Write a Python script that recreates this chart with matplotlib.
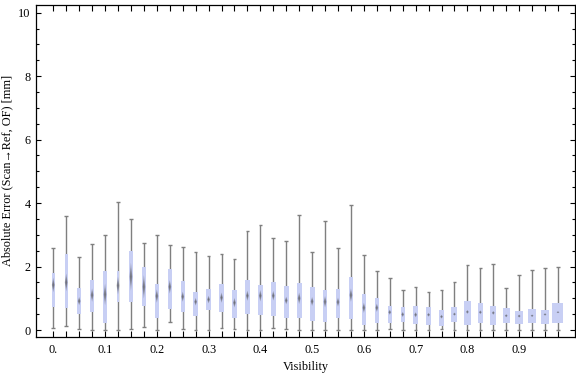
import numpy as np
import matplotlib.pyplot as plt

# visibility bins (box positions)
vis = np.arange(40) * 0.025

# box whisker statistics [mm]
w_lo = [0.05, 0.12, 0.02, 0.00, 0.00, 0.00, 0.02, 0.10, 0.00, 0.24,
        0.02, 0.00, 0.00, 0.05, 0.02, 0.00, 0.00, 0.06, 0.02, 0.00,
        0.00, 0.00, 0.00, 0.00, 0.00, 0.00, 0.03, 0.00, 0.00, 0.00,
        0.02, 0.00, 0.00, 0.00, 0.00, 0.00, 0.00, 0.00, 0.00, 0.00]
q1 = [0.73, 0.68, 0.52, 0.56, 0.22, 0.89, 0.87, 0.77, 0.37, 0.67,
      0.56, 0.45, 0.64, 0.56, 0.37, 0.49, 0.48, 0.45, 0.39, 0.39,
      0.29, 0.26, 0.39, 0.36, 0.17, 0.23, 0.23, 0.24, 0.18, 0.17,
      0.14, 0.26, 0.17, 0.23, 0.17, 0.21, 0.20, 0.23, 0.20, 0.23]
med = [1.42, 1.50, 0.91, 1.10, 1.12, 1.40, 1.68, 1.36, 1.07, 1.36,
       1.05, 0.89, 0.96, 1.02, 0.86, 1.08, 1.08, 1.08, 0.93, 1.00,
       0.90, 0.89, 0.88, 1.10, 0.70, 0.70, 0.56, 0.49, 0.48, 0.48,
       0.42, 0.50, 0.57, 0.56, 0.54, 0.45, 0.44, 0.45, 0.49, 0.56]
q3 = [1.80, 2.38, 1.31, 1.56, 1.85, 1.85, 2.49, 1.98, 1.45, 1.92,
      1.54, 1.20, 1.29, 1.45, 1.26, 1.56, 1.42, 1.50, 1.39, 1.47,
      1.35, 1.26, 1.29, 1.67, 1.13, 1.01, 0.76, 0.72, 0.76, 0.72,
      0.63, 0.72, 0.91, 0.85, 0.76, 0.69, 0.60, 0.66, 0.63, 0.85]
w_hi = [2.58, 3.58, 2.30, 2.70, 2.98, 4.04, 3.49, 2.73, 2.98, 2.67,
        2.60, 2.45, 2.32, 2.38, 2.23, 3.11, 3.30, 2.89, 2.82, 3.61,
        2.45, 3.45, 2.57, 3.93, 2.35, 1.85, 1.63, 1.25, 1.34, 1.19,
        1.25, 1.50, 2.04, 1.94, 2.07, 1.31, 1.72, 1.88, 1.94, 1.97]
# median confidence (notch) half-height [mm]
notch = [0.23, 0.28, 0.13, 0.21, 0.34, 0.28, 0.44, 0.37, 0.21, 0.21,
         0.16, 0.12, 0.12, 0.16, 0.15, 0.16, 0.18, 0.15, 0.12, 0.18,
         0.14, 0.18, 0.14, 0.21, 0.16, 0.13, 0.08, 0.08, 0.08, 0.06,
         0.06, 0.05, 0.06, 0.06, 0.06, 0.05, 0.05, 0.04, 0.04, 0.03]
# relative box width (sample size), fraction of bin spacing
rel_w = [0.26, 0.23, 0.34, 0.26, 0.26, 0.23, 0.26, 0.26, 0.31, 0.31,
         0.31, 0.34, 0.41, 0.34, 0.34, 0.39, 0.39, 0.41, 0.39, 0.39,
         0.39, 0.34, 0.34, 0.34, 0.34, 0.34, 0.34, 0.31, 0.34, 0.39,
         0.39, 0.46, 0.49, 0.41, 0.49, 0.57, 0.57, 0.67, 0.67, 0.85]

x_labels = ["0.", "0.1", "0.2", "0.3", "0.4", "0.5", "0.6", "0.7", "0.8", "0.9"]

plt.rcParams['font.family'] = ['Liberation Serif', 'DejaVu Serif']

fig = plt.figure(figsize=(5.76, 3.77), dpi=100)
ax = fig.add_axes([0.0625, 0.1053, 0.9366, 0.8822])

step = 0.025
w_lo = np.array(w_lo); w_hi = np.array(w_hi)
q1 = np.array(q1); q3 = np.array(q3); med = np.array(med)
widths = np.array(rel_w) * step

# whiskers + caps
ax.vlines(vis, w_lo, w_hi, color='#7f7f7f', lw=1.0, zorder=1)
cap = 0.0035
ax.hlines(w_lo, vis - cap, vis + cap, color='#7f7f7f', lw=1.0, zorder=1)
ax.hlines(w_hi, vis - cap, vis + cap, color='#7f7f7f', lw=1.0, zorder=1)

# boxes
ax.bar(vis, q3 - q1, width=widths, bottom=q1, color='#c8cff4',
       edgecolor='none', zorder=2)

# median notch as shaded diamond
hw = 0.0028
for k in range(len(vis)):
    for s in [1.0, 0.65, 0.35]:
        xs = [vis[k] - hw * s, vis[k], vis[k] + hw * s, vis[k]]
        ys = [med[k], med[k] + notch[k] * s, med[k], med[k] - notch[k] * s]
        ax.fill(xs, ys, color='#4f4f4f', alpha=0.38, lw=0, zorder=3)

ax.set_xlim(-0.0334, 1.0088)
ax.set_ylim(-0.23, 10.25)

ax.set_xticks(vis)
ax.set_xticklabels([x_labels[i // 4] if i % 4 == 0 else "" for i in range(len(vis))])
ax.set_yticks(np.arange(0, 11, 2))
ax.set_yticks(np.arange(0, 10.5, 0.5), minor=True)

ax.tick_params(axis='x', direction='in', length=4, width=0.8, top=True,
               labelsize=8.8, pad=5)
ax.tick_params(axis='y', which='major', direction='in', length=3.3, width=0.8,
               right=True, labelsize=8.8, pad=4)
ax.tick_params(axis='y', which='minor', direction='in', length=2, width=0.8,
               right=True)
for sp in ax.spines.values():
    sp.set_linewidth(0.9)

fig.text(7 / 576, 1 - 170 / 377, "Absolute Error (Scan\u2192Ref, OF) [mm]",
         rotation=90, ha='center', va='center', fontsize=8.8)
fig.text(306 / 576, 1 - 367 / 377, "Visibility", ha='center', va='center',
         fontsize=8.8)

plt.savefig('out.png', dpi=100)
